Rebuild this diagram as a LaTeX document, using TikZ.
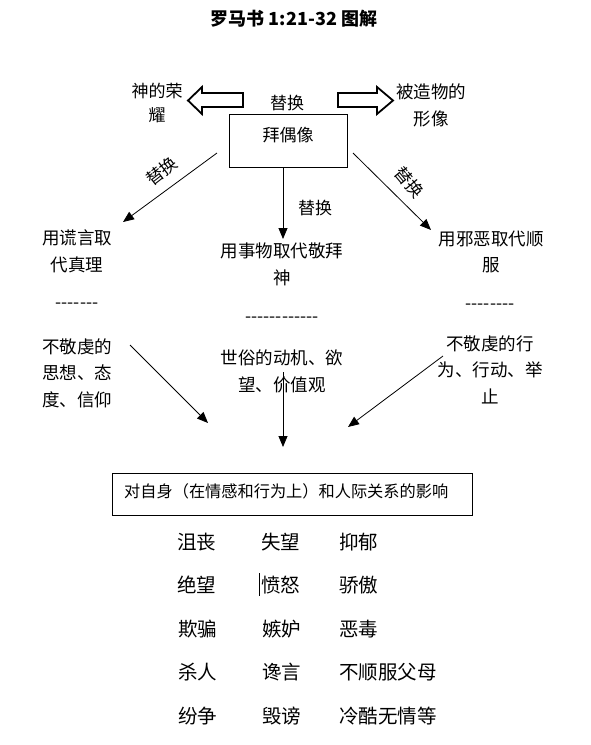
\documentclass[tikz,border=0pt]{standalone}
\usepackage{fontspec}
\setmainfont{Noto Sans CJK SC}[Ligatures=TeXOff]
\usetikzlibrary{arrows.meta}
\begin{document}
\begin{tikzpicture}[x=1pt,y=-1pt,
  txt/.style={inner sep=0pt, align=center, font=\fontsize{17.5}{26.5}\selectfont},
  lbl/.style={inner sep=0pt, font=\fontsize{17}{20}\selectfont},
  grid/.style={inner sep=0pt, anchor=west, font=\fontsize{19.5}{22}\selectfont},
  conn/.style={line width=0.8pt, -{Triangle[length=11pt,width=9pt]}},
  hollow/.style={draw, line width=1.8pt, line join=miter, fill=white}]
\useasboundingbox (0,0) rectangle (591,745);
% title
\node[inner sep=0pt, font=\fontsize{18}{20}\selectfont\bfseries] (title) at (294,19) {罗马书 1:21-32 图解};
% top labels
\node[txt, font=\fontsize{17}{24}\selectfont] (glory) at (157,103) {神的荣\\耀};
\node[txt, font=\fontsize{17.5}{27}\selectfont] (image) at (431,105) {被造物的\\形像};
\node[lbl] (swaptop) at (287,103) {替换};
% hollow arrows
\draw[hollow] (243,93) -- (202,93) -- (202,87) -- (188,100.5) -- (202,114) -- (202,107) -- (243,107) -- cycle;
\draw[hollow] (338,93) -- (377,93) -- (377,87) -- (393,100.5) -- (377,114) -- (377,107) -- (338,107) -- cycle;
% idol box
\node[draw, line width=0.8pt, minimum width=118pt, minimum height=53pt, inner sep=0pt] (idol) at (288,140.5) {};
\node[lbl, font=\fontsize{17}{20}\selectfont] (idoltext) at (288,135) {拜偶像};
% three branches
\node[txt] (lie) at (77,251.5) {用谎言取\\代真理};
\node[txt] (things) at (282,264.5) {用事物取代敬拜\\神};
\node[txt] (evil) at (491,252) {用邪恶取代顺\\服};
\node[txt] (dashl) at (77,306) {-------};
\node[txt] (dashm) at (282,320) {------------};
\node[txt] (dashr) at (490,307) {--------};
\node[txt] (thought) at (77,373) {不敬虔的\\思想、态\\度、信仰};
\node[txt] (motive) at (282,371.5) {世俗的动机、欲\\望、价值观};
\node[txt] (deed) at (490,369.5) {不敬虔的行\\为、行动、举\\止};
% connector endpoints
\coordinate (a1s) at (217,153);
\coordinate (a1e) at (123,222);
\coordinate (a2s) at (283,168);
\coordinate (a2e) at (283,239);
\coordinate (a3s) at (353,153);
\coordinate (a3e) at (431,230);
\coordinate (b1s) at (130,345);
\coordinate (b1e) at (208,423);
\coordinate (b2s) at (283,372);
\coordinate (b2e) at (283,447);
\coordinate (b3s) at (443,356);
\coordinate (b3e) at (348,427);
\draw[conn] (a1s) -- (a1e);
\draw[conn] (a2s) -- (a2e);
\draw[conn] (a3s) -- (a3e);
\draw[conn] (b1s) -- (b1e);
\draw[conn] (b2s) -- (b2e);
\draw[conn] (b3s) -- (b3e);
\node[lbl, rotate=38] (swapl) at (162,171) {替换};
\node[lbl, rotate=-50] (swapr) at (409,182) {替换};
\node[lbl] (swapm) at (315,208) {替换};
% effect box
\node[draw, line width=0.8pt, minimum width=360pt, minimum height=42pt, inner sep=0pt] (effect) at (292,494) {};
\node[inner sep=0pt, anchor=west, font=\fontsize{16.2}{18}\selectfont] (effecttext) at (124,491) {对自身（在情感和行为上）和人际关系的影响};
% grid
\node[grid] (g11) at (177,542) {沮丧};
\node[grid] (g12) at (261,542) {失望};
\node[grid] (g13) at (339,542) {抑郁};
\node[grid] (g21) at (177,585) {绝望};
\node[grid] (g22) at (261,585) {愤怒};
\node[grid] (g23) at (339,585) {骄傲};
\node[grid] (g31) at (178,629) {欺骗};
\node[grid] (g32) at (262,629) {嫉妒};
\node[grid] (g33) at (339,629) {恶毒};
\node[grid] (g41) at (178,672) {杀人};
\node[grid] (g42) at (262,672) {谗言};
\node[grid] (g43) at (339,672) {不顺服父母};
\node[grid] (g51) at (178,716) {纷争};
\node[grid] (g52) at (262,716) {毁谤};
\node[grid] (g53) at (339,716) {冷酷无情等};
\coordinate (bartop) at (259,573);
\coordinate (barbot) at (259,596);
\draw[line width=0.9pt] (bartop) -- (barbot);
\end{tikzpicture}
\end{document}
